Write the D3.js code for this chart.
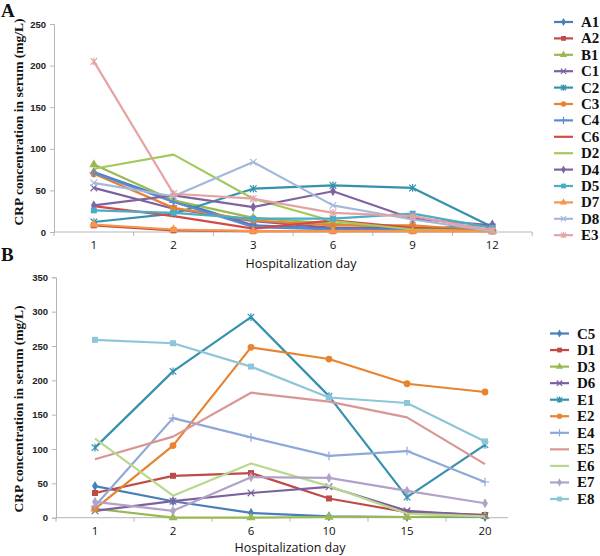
<!DOCTYPE html>
<html><head><meta charset="utf-8">
<script src="https://cdn.jsdelivr.net/npm/d3@7"></script>
<style>
html,body{margin:0;padding:0;background:#fff;}
svg{display:block;}
</style></head>
<body>
<svg id="chart" width="600" height="556"></svg>
<script>
// ---------- DATA ----------
const daysA = ["1","2","3","6","9","12"];
const namesA = ["A1","A2","B1","C1","C2","C3","C4","C6","D2","D4","D5","D7","D8","E3"];
const A1 = [72, 38, 8, 4, 3, 9];
const A2 = [8, 2, 1, 1, 1, 1];
const B1 = [81, 38, 17, 10, 3, 1];
const C1 = [53, 28, 13, 5, 5, 3];
const C2 = [12, 22, 52, 56, 53, 6];
const C3 = [70, 29, 14, 8, 8, 1];
const C4 = [71, 36, 6, 3, 3, 2];
const C6 = [31, 19, 4, 14, 5, 1];
const D2 = [76, 93, 40, 13, 3, 1];
const D4 = [32, 44, 30, 49, 16, 8];
const D5 = [26, 23, 16, 16, 22, 5];
const D7 = [9, 3, 1, 1, 1, 1];
const D8 = [59, 43, 84, 32, 15, 1];
const E3 = [205, 46, 40, 23, 19, 2];
const ticksA = [0, 50, 100, 150, 200, 250];

const daysB = ["1","2","6","10","15","20"];
const namesB = ["C5","D1","D3","D6","E1","E2","E4","E5","E6","E7","E8"];
const C5 = [46, 24, 7, 2, 1, 1];
const D1 = [36, 61, 65, 28, 8, 4];
const D3 = [13, 0, 0, 1, 1, 2];
const D6 = [10, 24, 36, 45, 10, 3];
const E1 = [102, 213, 292, 177, 30, 106];
const E2 = [13, 105, 248, 231, 195, 183];
const E4 = [17, 145, 117, 90, 97, 52];
const E5 = [85, 118, 182, 169, 146, 78];
const E6 = [115, 32, 79, 46, 6, 2];
const E7 = [23, 10, 59, 58, 39, 21];
const E8 = [259, 254, 220, 175, 167, 111];
const ticksB = [0, 50, 100, 150, 200, 250, 300, 350];

const xTitle = "Hospitalization day";
const yTitle = "CRP concentration in serum (mg/L)";

// ---------- STYLE ----------
const styleA = {
  A1:{c:"#4a7ebb",m:"diamond"}, A2:{c:"#be4b48",m:"square"}, B1:{c:"#98b954",m:"triangle"},
  C1:{c:"#7d60a0",m:"x"}, C2:{c:"#3591ad",m:"star"}, C3:{c:"#e8832f",m:"circle"},
  C4:{c:"#5b8ad0",m:"plus"}, C6:{c:"#d44a47",m:"none"}, D2:{c:"#a3c95c",m:"none"},
  D4:{c:"#8064a2",m:"diamond"}, D5:{c:"#4bacc6",m:"square"}, D7:{c:"#f79646",m:"triangle"},
  D8:{c:"#a5b8dc",m:"x"}, E3:{c:"#e4a3a2",m:"star"}
};
const styleB = {
  C5:{c:"#4a7ebb",m:"diamond"}, D1:{c:"#be4b48",m:"square"}, D3:{c:"#98b954",m:"triangle"},
  D6:{c:"#7d60a0",m:"x"}, E1:{c:"#3591ad",m:"star"}, E2:{c:"#e8832f",m:"circle"},
  E4:{c:"#8fa8d8",m:"plus"}, E5:{c:"#d99694",m:"none"}, E6:{c:"#b9d88f",m:"none"},
  E7:{c:"#b3a2c7",m:"diamond"}, E8:{c:"#8cc6d8",m:"square"}
};
const seriesA = {A1,A2,B1,C1,C2,C3,C4,C6,D2,D4,D5,D7,D8,E3};
const seriesB = {C5,D1,D3,D6,E1,E2,E4,E5,E6,E7,E8};

const svg = d3.select("#chart");
const axisColor = "#b5b5b5";

function marker(g, type, color, s) {
  if (type === "none") return;
  if (type === "diamond") g.append("path").attr("d", d3.symbol(d3.symbolDiamond, 30*s*s)()).attr("fill", color);
  else if (type === "square") g.append("path").attr("d", d3.symbol(d3.symbolSquare, 36*s*s)()).attr("fill", color);
  else if (type === "triangle") g.append("path").attr("d", d3.symbol(d3.symbolTriangle, 36*s*s)()).attr("fill", color);
  else if (type === "circle") g.append("circle").attr("r", 3.4*s).attr("fill", color);
  else {
    const r = 3.3*s;
    let d = "";
    if (type === "x" || type === "star") d += `M${-r},${-r}L${r},${r}M${-r},${r}L${r},${-r}`;
    if (type === "star") d += `M0,${-r-0.5}L0,${r+0.5}`;
    if (type === "plus") d += `M${-r-1},0L${r+1},0M0,${-r-1}L0,${r+1}`;
    g.append("path").attr("d", d).attr("stroke", color).attr("stroke-width", 1.2).attr("fill", "none");
  }
}

function panel(opt) {
  const x = d3.scaleBand().domain(opt.days).range([opt.left, opt.left + opt.band*opt.days.length]).paddingInner(0).paddingOuter(0);
  const y = d3.scaleLinear().domain([0, opt.ymax]).range([opt.y0, opt.ytop]);
  const cx = d => x(d) + x.bandwidth()/2;
  const g = svg.append("g");

  // y axis
  const ya = g.append("g").attr("transform", `translate(${opt.left},0)`)
    .call(d3.axisLeft(y).tickValues(opt.ticks).tickSize(4).tickPadding(4));
  ya.select(".domain").attr("stroke", axisColor);
  ya.selectAll(".tick line").attr("stroke", axisColor);
  ya.selectAll(".tick text").attr("font-family", "'Liberation Sans', Arial, sans-serif")
    .attr("font-weight", "bold").attr("font-size", 9.5).attr("fill", "#222");

  // x axis (labels at centers, ticks between categories)
  const xa = g.append("g").attr("transform", `translate(0,${opt.y0})`)
    .call(d3.axisBottom(x).tickSize(0).tickPadding(9));
  xa.select(".domain").remove();
  xa.selectAll(".tick text").attr("font-family", "'Open Sans', sans-serif")
    .attr("font-size", 11.5).attr("fill", "#111");
  g.append("line").attr("x1", opt.left).attr("x2", opt.xEnd).attr("y1", opt.y0).attr("y2", opt.y0)
    .attr("stroke", axisColor);
  const bounds = opt.days.map(d => x(d)).concat([x.range()[1]]).filter(v => v <= opt.xEnd + 1);
  g.selectAll("line.xt").data(bounds).join("line").attr("class", "xt")
    .attr("x1", d => d).attr("x2", d => d).attr("y1", opt.y0).attr("y2", opt.y0 + 4)
    .attr("stroke", axisColor);

  // series
  const line = d3.line().x((d, i) => cx(opt.days[i])).y(d => y(d));
  opt.names.forEach(n => {
    const st = opt.style[n];
    const vals = opt.series[n];
    g.append("path").datum(vals).attr("d", line).attr("fill", "none")
      .attr("stroke", st.c).attr("stroke-width", 2.2).attr("stroke-linejoin", "round");
    vals.forEach((v, i) => {
      const mg = g.append("g").attr("transform", `translate(${cx(opt.days[i])},${y(v)})`);
      marker(mg, st.m, st.c, 1);
    });
  });

  // titles
  g.append("text").attr("x", (opt.left + opt.xEnd)/2 + 8).attr("y", opt.xTitleY)
    .attr("text-anchor", "middle").attr("font-family", "'Open Sans', sans-serif")
    .attr("font-size", 12.5).attr("fill", "#111").text(xTitle);
  g.append("text").attr("transform", `translate(${opt.yTitleX},${opt.yTitleY}) rotate(-90)`)
    .attr("text-anchor", "middle").attr("dominant-baseline", "central")
    .attr("font-family", "'Liberation Serif', 'Times New Roman', serif").attr("font-weight", "bold")
    .attr("font-size", 13.5).attr("fill", "#111").text(yTitle);
  g.append("text").attr("x", 1).attr("y", opt.letterY)
    .attr("font-family", "'Liberation Serif', 'Times New Roman', serif").attr("font-weight", "bold")
    .attr("font-size", 19).attr("fill", "#111").text(opt.letter);

  // legend
  const lg = g.append("g");
  opt.names.forEach((n, i) => {
    const st = opt.style[n];
    const yy = opt.legY + i*opt.legStep;
    lg.append("line").attr("x1", opt.legX).attr("x2", opt.legX + 19).attr("y1", yy).attr("y2", yy)
      .attr("stroke", st.c).attr("stroke-width", 2.2);
    const mg = lg.append("g").attr("transform", `translate(${opt.legX + 9.5},${yy})`);
    marker(mg, st.m, st.c, 0.8);
    lg.append("text").attr("x", opt.legX + 27).attr("y", yy).attr("dominant-baseline", "central")
      .attr("font-family", "'Liberation Serif', 'Times New Roman', serif").attr("font-weight", "bold")
      .attr("font-size", 15).attr("fill", "#111").text(n);
  });
}

panel({days: daysA, names: namesA, series: seriesA, style: styleA, ticks: ticksA,
  left: 54, band: 79.7, xEnd: 532, y0: 232, ytop: 24, ymax: 250,
  xTitleY: 268, yTitleX: 18, yTitleY: 122, letter: "A", letterY: 17,
  legX: 554, legY: 22, legStep: 16.4});

panel({days: daysB, names: namesB, series: seriesB, style: styleB, ticks: ticksB,
  left: 56, band: 78, xEnd: 508, y0: 517.7, ytop: 277.3, ymax: 350,
  xTitleY: 552, yTitleX: 18, yTitleY: 409, letter: "B", letterY: 261,
  legX: 550, legY: 333.5, legStep: 16.55});
</script>
</body></html>
